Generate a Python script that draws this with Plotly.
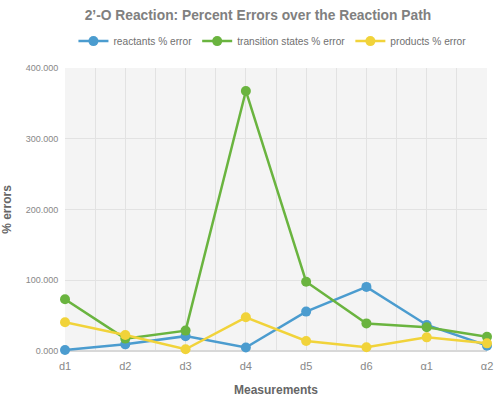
import plotly.graph_objects as go

categories = ["d1", "d2", "d3", "d4", "d5", "d6", "α1", "α2"]
reactants = [1.4, 9.4, 21.0, 5.0, 55.7, 90.6, 36.8, 7.5]
transition_states = [73.1, 17.5, 28.8, 367.5, 98.0, 39.0, 33.5, 20.0]
products = [40.6, 22.6, 2.4, 47.6, 14.2, 5.2, 19.3, 10.8]
y_ticks = [0, 100, 200, 300, 400]

series = [
    ("reactants % error", reactants, "#4b9ccf"),
    ("transition states % error", transition_states, "#6ab43f"),
    ("products % error", products, "#f1d33a"),
]

xpos = list(range(len(categories)))
fig = go.Figure()
for name, vals, col in series:
    fig.add_trace(go.Scatter(
        x=xpos, y=vals, name=name, mode="lines+markers",
        line=dict(color=col, width=2.5),
        marker=dict(color=col, size=10),
        cliponaxis=False,
    ))

font_family = "Liberation Sans, Arial, sans-serif"
fig.update_layout(
    width=496, height=399,
    margin=dict(l=65, r=9, t=68, b=48),
    paper_bgcolor="white",
    plot_bgcolor="#f4f4f4",
    font=dict(family=font_family, color="#777777", size=10),
    title=dict(text="<b>2’-O Reaction: Percent Errors over the Reaction Path</b>",
               x=0.52, xanchor="center", y=0.962, yanchor="middle",
               font=dict(size=13.8, color="#808080")),
    legend=dict(orientation="h", x=0.02, xanchor="left", y=1.095, yanchor="middle",
                font=dict(size=10.2, color="#707070"), itemwidth=30,
                tracegroupgap=0),
    showlegend=True,
)
fig.update_xaxes(
    range=[0, len(categories) - 1], automargin=False,
    tickmode="array", tickvals=xpos, ticktext=categories,
    showgrid=True, gridcolor="#e2e2e2", gridwidth=1,
    minor=dict(dtick=0.5, showgrid=True, gridcolor="#e2e2e2", gridwidth=1),
    zeroline=False, showline=False,
    ticks="outside", ticklen=5, tickcolor="rgba(0,0,0,0)",
    tickfont=dict(size=11, color="#888888"),
    title=dict(text="<b>Measurements</b>", font=dict(size=12, color="#666666"), standoff=14),
)
fig.update_yaxes(
    range=[0, 400], automargin=False,
    tickmode="array", tickvals=y_ticks, tickformat=".3f",
    showgrid=True, gridcolor="#e2e2e2", gridwidth=1,
    zeroline=True, zerolinecolor="#d8d8d8", showline=False,
    ticks="outside", ticklen=4, tickcolor="rgba(0,0,0,0)",
    tickfont=dict(size=9, color="#888888"),
    title=dict(text="<b>% errors</b>", font=dict(size=12, color="#666666"), standoff=12),
)

fig.write_html("out.html", config={"displayModeBar": False},
               post_script="document.body.style.margin='0';document.body.style.padding='0';")
